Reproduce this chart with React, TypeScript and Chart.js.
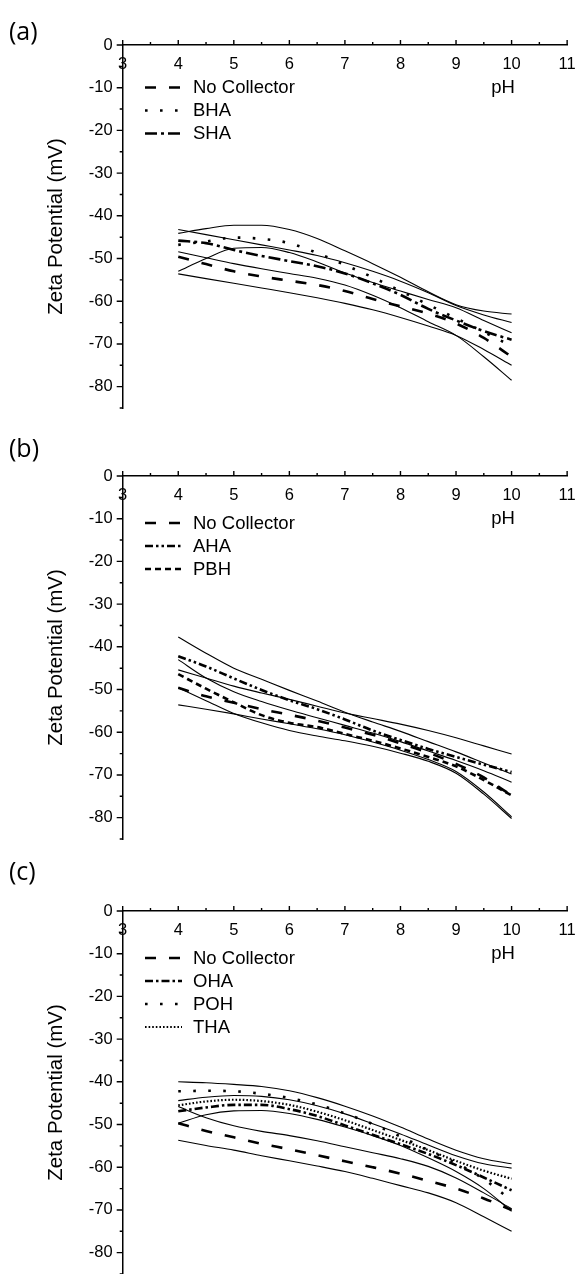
import React, { useEffect, useRef } from 'react';
import { Chart, registerables } from 'chart.js';

Chart.register(...registerables);

const FONT = "'Liberation Sans', Arial, Helvetica, sans-serif";

// ---------- shared axes ----------
const pH = [4, 4.5, 5, 5.5, 6, 6.5, 7, 7.5, 8, 8.5, 9, 9.5, 10];
const xTicks = [3, 4, 5, 6, 7, 8, 9, 10, 11];
const yTicks = [0, -10, -20, -30, -40, -50, -60, -70, -80];

// ---------- panel (a) ----------
const aNoCollector = [-49.6, -51.3, -53.0, -54.2, -55.2, -56.2, -57.6, -59.5, -61.2, -62.9, -65.2, -68.6, -73.0];
const aBHA = [-46.8, -46.0, -45.1, -45.4, -46.4, -48.7, -51.5, -54.4, -57.6, -60.8, -64.0, -67.2, -70.5];
const aSHA = [-45.8, -46.4, -48.0, -49.4, -50.6, -51.8, -53.5, -55.8, -58.5, -61.8, -64.5, -67.0, -69.0];
const aBound1 = [-43.2, -44.4, -45.6, -46.8, -48.0, -49.3, -51.0, -53.0, -55.3, -58.0, -61.0, -63.2, -65.0];
const aBound2 = [-44.1, -43.0, -42.2, -42.2, -43.2, -45.3, -48.2, -51.2, -54.4, -57.8, -60.8, -62.3, -63.0];
const aBound3 = [-53.0, -50.0, -47.6, -47.4, -48.6, -50.8, -53.4, -55.6, -57.6, -59.6, -61.5, -64.5, -67.4];
const aBound4 = [-48.4, -49.8, -51.2, -52.4, -53.5, -54.6, -56.2, -58.6, -61.5, -64.8, -68.0, -73.0, -78.5];
const aBound5 = [-53.6, -54.7, -55.8, -56.9, -58.0, -59.2, -60.5, -62.0, -63.8, -65.8, -68.0, -71.3, -75.0];

// ---------- panel (b) ----------
const bNoCollector = [-49.6, -51.6, -53.1, -54.6, -55.9, -57.3, -58.9, -60.6, -62.6, -64.8, -67.4, -70.6, -74.8];
const bAHA = [-42.2, -44.6, -47.4, -50.1, -52.5, -54.6, -57.0, -59.6, -61.8, -63.9, -65.8, -67.6, -69.3];
const bPBH = [-46.4, -49.8, -53.0, -56.0, -57.8, -58.8, -60.4, -62.0, -63.8, -65.8, -68.0, -71.2, -74.8];
const bBound1 = [-37.7, -41.5, -45.0, -47.6, -50.2, -52.7, -55.3, -57.6, -59.8, -62.2, -64.6, -67.2, -69.8];
const bBound2 = [-45.4, -47.3, -49.2, -50.8, -52.3, -53.9, -55.5, -56.8, -58.1, -59.6, -61.3, -63.2, -65.1];
const bBound3 = [-43.0, -47.3, -50.5, -52.8, -54.8, -56.6, -58.4, -60.2, -62.2, -64.4, -66.6, -69.0, -71.7];
const bBound4 = [-49.6, -52.6, -55.6, -57.8, -59.6, -60.9, -62.0, -63.3, -64.9, -66.8, -69.6, -74.5, -80.2];
const bBound5 = [-53.6, -54.6, -55.7, -56.9, -58.0, -59.2, -60.6, -62.3, -64.2, -66.4, -69.2, -74.0, -79.8];

// ---------- panel (c) ----------
const cNoCollector = [-49.7, -51.5, -53.0, -54.5, -55.8, -57.2, -58.6, -60.0, -61.5, -63.2, -65.0, -67.3, -70.0];
const cOHA = [-46.9, -46.0, -45.4, -45.4, -46.4, -48.0, -50.2, -52.4, -54.6, -56.9, -59.5, -62.4, -65.4];
const cPOH = [-42.2, -42.1, -42.2, -42.8, -43.8, -45.3, -47.4, -49.9, -52.8, -56.0, -59.0, -62.8, -67.8];
const cTHA = [-45.5, -44.6, -44.2, -44.5, -45.4, -47.0, -49.0, -51.3, -53.6, -56.0, -58.5, -60.8, -62.7];
const cBound1 = [-40.0, -40.2, -40.6, -41.1, -42.1, -43.7, -45.7, -48.0, -50.6, -53.4, -56.0, -58.0, -59.2];
const cBound2 = [-44.4, -43.6, -43.2, -43.4, -44.2, -45.6, -47.5, -49.8, -52.2, -54.8, -57.3, -59.2, -60.2];
const cBound3 = [-45.8, -48.4, -50.3, -51.6, -52.6, -53.8, -55.2, -56.6, -58.0, -59.8, -62.5, -66.0, -69.7];
const cBound4 = [-49.7, -47.7, -46.8, -46.7, -47.4, -48.8, -50.6, -52.6, -54.9, -57.8, -61.0, -65.0, -70.3];
const cBound5 = [-53.7, -54.9, -56.0, -57.3, -58.5, -59.7, -61.0, -62.6, -64.3, -66.0, -68.3, -71.6, -75.0];

// ---------- styles ----------
const DASH_NO_COLLECTOR = [11, 13];
const DASH_SPACED_DOT = [2.6, 12.4];
const DASH_DASH_DOT = [12, 4, 3, 4];
const DASH_DASH_DOT_DOT = [8, 3, 2.5, 3, 2.5, 3];
const DASH_SHORT = [6, 4];
const DASH_OHA = [8, 3, 2.5, 3];
const DASH_FINE_DOT = [1.6, 2];

type Mean = { label: string; values: number[]; dash: number[]; width: number };
type PanelCfg = {
  tag: string;
  axisY: number;
  tagY: number;
  legendTop: number;
  legendStep: number;
  means: Mean[];
  bounds: number[][];
};

const panels: PanelCfg[] = [
  {
    tag: '(a)', axisY: 45, tagY: 30, legendTop: 42.5, legendStep: 23,
    means: [
      { label: 'No Collector', values: aNoCollector, dash: DASH_NO_COLLECTOR, width: 2.6 },
      { label: 'BHA', values: aBHA, dash: DASH_SPACED_DOT, width: 2.6 },
      { label: 'SHA', values: aSHA, dash: DASH_DASH_DOT, width: 2.6 },
    ],
    bounds: [aBound1, aBound2, aBound3, aBound4, aBound5],
  },
  {
    tag: '(b)', axisY: 475.5, tagY: 447, legendTop: 47, legendStep: 23,
    means: [
      { label: 'No Collector', values: bNoCollector, dash: DASH_NO_COLLECTOR, width: 2.6 },
      { label: 'AHA', values: bAHA, dash: DASH_DASH_DOT_DOT, width: 2.6 },
      { label: 'PBH', values: bPBH, dash: DASH_SHORT, width: 2.6 },
    ],
    bounds: [bBound1, bBound2, bBound3, bBound4, bBound5],
  },
  {
    tag: '(c)', axisY: 910.6, tagY: 870, legendTop: 47, legendStep: 23,
    means: [
      { label: 'No Collector', values: cNoCollector, dash: DASH_NO_COLLECTOR, width: 2.6 },
      { label: 'OHA', values: cOHA, dash: DASH_OHA, width: 2.6 },
      { label: 'POH', values: cPOH, dash: DASH_SPACED_DOT, width: 2.6 },
      { label: 'THA', values: cTHA, dash: DASH_FINE_DOT, width: 2.2 },
    ],
    bounds: [cBound1, cBound2, cBound3, cBound4, cBound5],
  },
];

const CANVAS_W = 585;
const CANVAS_H = 440;
const PAD_TOP = 45;

const decoPlugin = {
  id: 'deco',
  afterDraw(chart: any, _args: any, opts: any) {
    const { ctx } = chart;
    const xs = chart.scales.x;
    const ys = chart.scales.y;
    const y0 = ys.getPixelForValue(0);
    const left = xs.getPixelForValue(xTicks[0]);
    ctx.save();
    ctx.strokeStyle = '#000';
    ctx.lineWidth = 1.4;
    ctx.setLineDash([]);
    ctx.beginPath();
    // x ticks (major + minor) pointing up
    for (let i = 0; i < xTicks.length; i++) {
      const v = xTicks[i];
      const px = xs.getPixelForValue(v);
      ctx.moveTo(px, y0);
      ctx.lineTo(px, y0 - 5);
      if (i < xTicks.length - 1) {
        const pm = xs.getPixelForValue(v + 0.5);
        ctx.moveTo(pm, y0);
        ctx.lineTo(pm, y0 - 3);
      }
    }
    // y ticks pointing left
    for (let i = 0; i < yTicks.length; i++) {
      const v = yTicks[i];
      const py = ys.getPixelForValue(v);
      ctx.moveTo(left, py);
      ctx.lineTo(left - 6, py);
      const pm = ys.getPixelForValue(v - 5);
      ctx.moveTo(left, pm);
      ctx.lineTo(left - 3, pm);
    }
    ctx.stroke();

    // legend
    const items = opts.items || [];
    ctx.font = `18.5px ${FONT}`;
    ctx.fillStyle = '#000';
    ctx.textBaseline = 'middle';
    ctx.textAlign = 'left';
    items.forEach((label: string, i: number) => {
      const ds = chart.data.datasets.find((d: any) => d.label === label);
      if (!ds) return;
      const yy = y0 + opts.legendTop + i * opts.legendStep;
      ctx.save();
      ctx.lineWidth = ds.borderWidth;
      ctx.setLineDash(ds.borderDash || []);
      ctx.beginPath();
      ctx.moveTo(145, yy);
      ctx.lineTo(182, yy);
      ctx.stroke();
      ctx.restore();
      ctx.fillText(label, 193, yy + 0.5);
    });

    // pH label
    ctx.textAlign = 'center';
    ctx.fillText('pH', 503, y0 + 43);
    ctx.restore();
  },
};

function Panel({ cfg }: { cfg: PanelCfg }) {
  const ref = useRef<HTMLCanvasElement | null>(null);
  useEffect(() => {
    const canvas = ref.current;
    if (!canvas) return;
    const toPts = (vals: number[]) => pH.map((x, i) => ({ x, y: vals[i] }));
    const datasets: any[] = [
      ...cfg.bounds.map((vals) => ({
        data: toPts(vals),
        borderColor: '#000',
        borderWidth: 1.1,
        pointRadius: 0,
        fill: false,
        cubicInterpolationMode: 'monotone',
      })),
      ...cfg.means.map((m) => ({
        label: m.label,
        data: toPts(m.values),
        borderColor: '#000',
        borderWidth: m.width,
        borderDash: m.dash,
        borderCapStyle: 'butt',
        pointRadius: 0,
        fill: false,
        cubicInterpolationMode: 'monotone',
      })),
    ];
    const chart = new Chart(canvas, {
      type: 'line',
      data: { datasets },
      options: {
        animation: false,
        responsive: false,
        devicePixelRatio: 1,
        layout: { padding: { left: 40, right: 11.7, top: PAD_TOP, bottom: CANVAS_H - PAD_TOP - 363 } },
        scales: {
          x: {
            type: 'linear',
            min: 3,
            max: 11,
            position: { y: 0 } as any,
            grid: { display: false, drawTicks: false },
            border: { display: true, color: '#000', width: 1.5 },
            ticks: {
              padding: 9.3,
              color: '#000',
              autoSkip: false,
              maxRotation: 0,
              font: { size: 16.5, family: FONT },
            },
            afterBuildTicks: (s: any) => {
              s.ticks = xTicks.map((v) => ({ value: v }));
            },
          },
          y: {
            type: 'linear',
            min: -85,
            max: 0,
            grid: { display: false, drawTicks: false },
            border: { display: true, color: '#000', width: 1.5 },
            ticks: {
              padding: 10,
              color: '#000',
              autoSkip: false,
              font: { size: 16.5, family: FONT },
            },
            title: {
              display: true,
              text: 'Zeta Potential (mV)',
              color: '#000',
              font: { size: 20.5, family: FONT },
              padding: { top: 4, bottom: 0 },
            },
            afterBuildTicks: (s: any) => {
              s.ticks = yTicks.map((v) => ({ value: v }));
            },
            afterFit: (s: any) => {
              s.width = 82.7;
            },
          },
        },
        plugins: {
          legend: { display: false },
          tooltip: { enabled: false },
          deco: {
            items: cfg.means.map((m) => m.label),
            legendTop: cfg.legendTop,
            legendStep: cfg.legendStep,
          },
        } as any,
      },
      plugins: [decoPlugin],
    } as any);
    return () => chart.destroy();
  }, [cfg]);

  return (
    <>
      <canvas
        ref={ref}
        width={CANVAS_W}
        height={CANVAS_H}
        style={{ position: 'absolute', left: 0, top: cfg.axisY - PAD_TOP, width: CANVAS_W, height: CANVAS_H }}
      />
      <div
        style={{
          position: 'absolute',
          left: 9,
          top: cfg.tagY - 17,
          height: 34,
          lineHeight: '34px',
          fontFamily: "'Open Sans', 'Noto Sans', sans-serif",
          fontSize: 25,
          color: '#000',
        }}
      >
        {cfg.tag}
      </div>
    </>
  );
}

export default function App() {
  return (
    <div
      style={{
        position: 'fixed',
        left: 0,
        top: 0,
        width: 585,
        height: 1274,
        overflow: 'hidden',
        background: '#fff',
      }}
    >
      {panels.map((p) => (
        <Panel key={p.tag} cfg={p} />
      ))}
    </div>
  );
}
